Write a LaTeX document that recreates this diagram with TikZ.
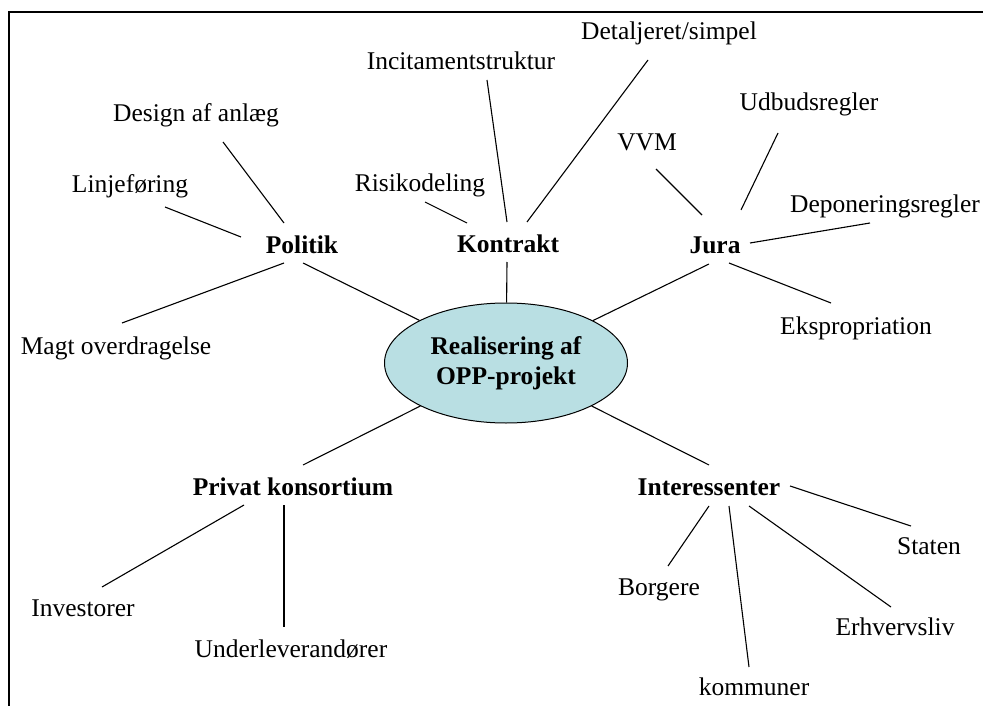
\documentclass[tikz,border=0pt]{standalone}
\usepackage{fontspec}
\setmainfont{Liberation Serif}
\usetikzlibrary{calc,shapes.geometric}
\definecolor{ellfill}{RGB}{185,223,227}
\begin{document}
\begin{tikzpicture}[x=1pt,y=-1pt,
  lbl/.style={inner sep=0pt,anchor=base,font=\fontsize{25.5}{30.5}\selectfont},
  head/.style={lbl,font=\fontsize{25.5}{30.5}\selectfont\bfseries},
  conn/.style={draw=black,line width=1.1pt},
  frame/.style={draw=black,line width=2pt}]
\useasboundingbox (0,0) rectangle (983,706);
% frame
\draw[frame] (983,12) -- (9,12) -- (9,706);
% centre
\node[ellipse,draw=black,line width=1pt,fill=ellfill,minimum width=243pt,minimum height=120pt,inner sep=0pt,
      align=center,font=\fontsize{25.5}{30.5}\selectfont\bfseries] (cen) at (506,363)
      {Realisering af\\[-1pt]OPP-projekt};
% main heads
\node[head] (pol) at (302,253) {Politik};
\node[head] (kon) at (508,252) {Kontrakt};
\node[head] (jur) at (715,253) {Jura};
\node[head] (pri) at (293,495) {Privat konsortium};
\node[head] (int) at (709,495) {Interessenter};
% leaves
\node[lbl] (des) at (196,122) {Design af anl\ae g};
\node[lbl] (lin) at (130,193) {Linjef\o ring};
\node[lbl] (mag) at (116,354) {Magt overdragelse};
\node[lbl] (ris) at (420,192) {Risikodeling};
\node[lbl] (inc) at (461,70) {Incitamentstruktur};
\node[lbl] (det) at (669,40) {Detaljeret/simpel};
\node[lbl] (vvm) at (647,151) {VVM};
\node[lbl] (udb) at (809,111) {Udbudsregler};
\node[lbl] (dep) at (885,212) {Deponeringsregler};
\node[lbl] (eks) at (856,334) {Ekspropriation};
\node[lbl] (inv) at (83,616) {Investorer};
\node[lbl] (und) at (291,657) {Underleverand\o rer};
\node[lbl] (sta) at (929,554) {Staten};
\node[lbl] (bor) at (659,595) {Borgere};
\node[lbl] (erh) at (895,635) {Erhvervsliv};
\node[lbl] (kom) at (754,695) {kommuner};
% connectors to centre
\draw[conn] ($(pol.base)+(1,10)$) -- (cen);
\draw[conn] ($(kon.base)+(-1,10)$) -- (cen);
\draw[conn] ($(jur.base)+(-6,11)$) -- (cen);
\draw[conn] ($(pri.base)+(10,-30)$) -- (cen);
\draw[conn] ($(int.base)+(0,-30)$) -- (cen);
% Politik
\draw[conn] ($(pol.base)+(-18,-30)$) -- ($(des.base)+(27,20)$);
\draw[conn] ($(pol.base)+(-61,-16)$) -- ($(lin.base)+(35,14)$);
\draw[conn] ($(pol.base)+(-18,10)$) -- ($(mag.base)+(6,-31)$);
% Kontrakt
\draw[conn] ($(kon.base)+(-41,-29)$) -- ($(ris.base)+(5,10)$);
\draw[conn] ($(kon.base)+(-1,-30)$) -- ($(inc.base)+(26,10)$);
\draw[conn] ($(kon.base)+(19,-30)$) -- ($(det.base)+(-21,20)$);
% Jura
\draw[conn] ($(jur.base)+(-13,-38)$) -- ($(vvm.base)+(9,18)$);
\draw[conn] ($(jur.base)+(26,-43)$) -- ($(udb.base)+(-31,22)$);
\draw[conn] ($(jur.base)+(35,-10)$) -- ($(dep.base)+(-15,11)$);
\draw[conn] ($(jur.base)+(14,10)$) -- ($(eks.base)+(-25,-31)$);
% Privat konsortium
\draw[conn] ($(pri.base)+(-49,10)$) -- ($(inv.base)+(19,-29)$);
\draw[conn] ($(pri.base)+(-9,10)$) -- ($(und.base)+(-7,-30)$);
% Interessenter
\draw[conn] ($(int.base)+(81,-9)$) -- ($(sta.base)+(-18,-28)$);
\draw[conn] ($(int.base)+(0,11)$) -- ($(bor.base)+(9,-29)$);
\draw[conn] ($(int.base)+(20,11)$) -- ($(kom.base)+(-5,-28)$);
\draw[conn] ($(int.base)+(40,11)$) -- ($(erh.base)+(-4,-28)$);
\end{tikzpicture}
\end{document}
